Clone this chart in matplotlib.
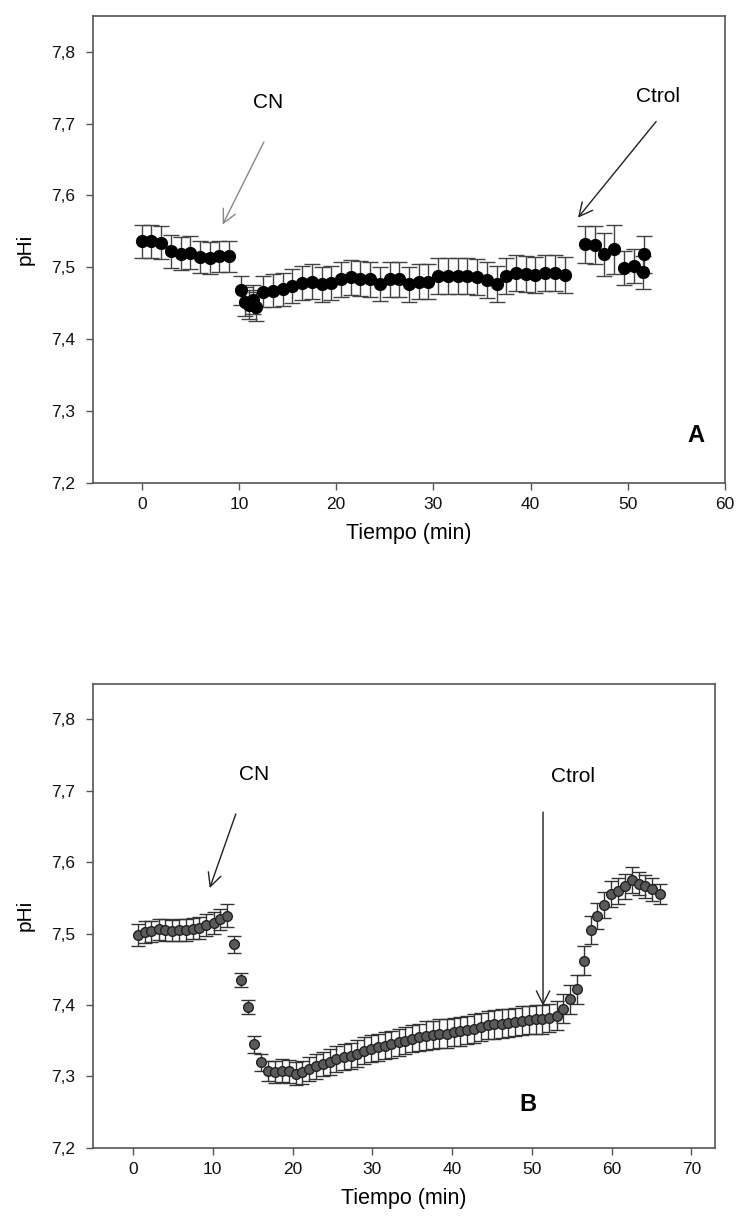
import matplotlib
matplotlib.use("Agg")
import matplotlib.pyplot as plt
from matplotlib.ticker import FuncFormatter

plt.rcParams['font.family'] = ['Liberation Sans', 'DejaVu Sans']

# --- panel A data ---
a_t = [0.0, 1.0, 2.0, 3.0, 4.0, 5.0, 6.0, 7.0, 8.0, 9.0,
       10.2, 10.6, 11.0, 11.4, 11.8, 12.5, 13.5, 14.5, 15.5, 16.5,
       17.5, 18.5, 19.5, 20.5, 21.5, 22.5, 23.5, 24.5, 25.5, 26.5,
       27.5, 28.5, 29.5, 30.5, 31.5, 32.5, 33.5, 34.5, 35.5, 36.5,
       37.5, 38.5, 39.5, 40.5, 41.5, 42.5, 43.5,
       45.6, 46.6, 47.6, 48.6, 49.6, 50.6, 51.6, 51.7]
a_ph = [7.536, 7.536, 7.534, 7.522, 7.519, 7.520, 7.514, 7.513, 7.515, 7.515,
        7.468, 7.452, 7.448, 7.455, 7.445, 7.466, 7.467, 7.469, 7.474, 7.478,
        7.480, 7.476, 7.478, 7.483, 7.486, 7.484, 7.483, 7.477, 7.483, 7.483,
        7.476, 7.480, 7.480, 7.488, 7.488, 7.488, 7.488, 7.487, 7.482, 7.477,
        7.488, 7.492, 7.491, 7.489, 7.492, 7.492, 7.489,
        7.532, 7.531, 7.518, 7.525, 7.499, 7.502, 7.493, 7.518]
a_err = [0.023, 0.023, 0.023, 0.023, 0.023, 0.023, 0.022, 0.022, 0.022, 0.022,
         0.020, 0.020, 0.020, 0.020, 0.020, 0.022, 0.023, 0.023, 0.024, 0.024,
         0.024, 0.024, 0.024, 0.024, 0.024, 0.024, 0.024, 0.024, 0.024, 0.024,
         0.024, 0.024, 0.024, 0.025, 0.025, 0.025, 0.025, 0.025, 0.025, 0.025,
         0.025, 0.025, 0.025, 0.025, 0.025, 0.025, 0.025,
         0.026, 0.026, 0.030, 0.034, 0.024, 0.024, 0.023, 0.026]

# --- panel B data ---
b_t = [0.6, 1.5, 2.3, 3.2, 4.0, 4.9, 5.8, 6.6, 7.5, 8.3, 9.2, 10.1, 10.9, 11.8,
       12.6, 13.5, 14.4, 15.2, 16.1, 16.9, 17.8, 18.7, 19.5, 20.4, 21.2, 22.1,
       23.0, 23.8, 24.7, 25.5, 26.4, 27.3, 28.1, 29.0, 29.8, 30.7, 31.6, 32.4,
       33.3, 34.1, 35.0, 35.9, 36.7, 37.6, 38.4, 39.3, 40.2, 41.0, 41.9, 42.7,
       43.6, 44.5, 45.3, 46.2, 47.0, 47.9, 48.8, 49.6, 50.5, 51.3, 52.2, 53.1,
       53.9, 54.8, 55.6, 56.5, 57.4, 58.2, 59.1, 59.9, 60.8, 61.7, 62.5, 63.4,
       64.2, 65.1, 66.0]
b_ph = [7.498, 7.502, 7.503, 7.506, 7.505, 7.504, 7.505, 7.505, 7.507, 7.508,
        7.512, 7.515, 7.520, 7.525,
        7.485, 7.435, 7.397, 7.345, 7.320, 7.308, 7.306, 7.308, 7.307, 7.304,
        7.306, 7.310, 7.314, 7.317, 7.320, 7.324, 7.327, 7.329, 7.332, 7.336,
        7.339, 7.341, 7.343, 7.345, 7.348, 7.350, 7.353, 7.355, 7.357, 7.358,
        7.360, 7.360, 7.362, 7.363, 7.365, 7.367, 7.369, 7.372, 7.373, 7.374,
        7.375, 7.376, 7.378, 7.379, 7.380, 7.380, 7.382, 7.385,
        7.395, 7.408, 7.422, 7.462, 7.505, 7.525, 7.540, 7.555, 7.560, 7.566,
        7.575, 7.570, 7.566, 7.562, 7.556]
b_err = [0.015, 0.015, 0.015, 0.015, 0.015, 0.015, 0.015, 0.015, 0.015, 0.015,
         0.015, 0.015, 0.015, 0.016,
         0.012, 0.010, 0.010, 0.012, 0.012, 0.014, 0.015, 0.016, 0.016, 0.016,
         0.016, 0.017, 0.017, 0.017, 0.018, 0.018, 0.018, 0.018, 0.019, 0.019,
         0.019, 0.019, 0.019, 0.019, 0.019, 0.019, 0.019, 0.019, 0.020, 0.020,
         0.020, 0.020, 0.020, 0.020, 0.020, 0.020, 0.020, 0.020, 0.020, 0.020,
         0.020, 0.020, 0.020, 0.020, 0.020, 0.020, 0.020, 0.020,
         0.020, 0.020, 0.020, 0.020, 0.020, 0.018, 0.018, 0.018, 0.018, 0.018,
         0.018, 0.016, 0.016, 0.016, 0.014]

y_ticks = [7.2, 7.3, 7.4, 7.5, 7.6, 7.7, 7.8]

fig = plt.figure(figsize=(7.39, 12.25), dpi=100)
axA = fig.add_axes([0.126, 0.606, 0.855, 0.381])
axB = fig.add_axes([0.126, 0.063, 0.842, 0.379])

comma = FuncFormatter(lambda v, p: ('%g' % v).replace('.', ','))


def style(ax, xlim, xticks):
    ax.set_xlim(*xlim)
    ax.set_ylim(7.2, 7.85)
    ax.set_xticks(xticks)
    ax.set_yticks(y_ticks)
    ax.yaxis.set_major_formatter(comma)
    ax.tick_params(direction='out', length=5, width=1, color='#555555',
                   labelcolor='#111111', labelsize=12.5, pad=8)
    ax.tick_params(axis='x', pad=5)
    for s in ax.spines.values():
        s.set_color('#555555')
        s.set_linewidth(1.2)
    ax.set_ylabel('pHi', fontsize=15, labelpad=12)
    ax.set_xlabel('Tiempo (min)', fontsize=15.5, labelpad=8)


# panel A
axA.errorbar(a_t, a_ph, yerr=a_err, fmt='o', color='black', ms=8.5,
             ecolor='#444444', elinewidth=1, capsize=6, capthick=1)
style(axA, (-5, 60), [0, 10, 20, 30, 40, 50, 60])
axA.annotate('', xy=(8.2, 7.556), xytext=(12.7, 7.678),
             arrowprops=dict(arrowstyle='->', color='#888888', lw=1, mutation_scale=24))
axA.text(13.0, 7.73, 'CN', fontsize=15, ha='center', va='center')
axA.annotate('', xy=(44.7, 7.566), xytext=(53.1, 7.706),
             arrowprops=dict(arrowstyle='->', color='#222222', lw=1, mutation_scale=24))
axA.text(53.1, 7.738, 'Ctrol', fontsize=15, ha='center', va='center')
axA.text(57.0, 7.265, 'A', fontsize=17, fontweight='bold', ha='center', va='center')

# panel B
axB.errorbar(b_t, b_ph, yerr=b_err, fmt='o', color='#5a5a5a', mec='#222222', ms=7,
             ecolor='#333333', elinewidth=1, capsize=5, capthick=1)
style(axB, (-5, 73), [0, 10, 20, 30, 40, 50, 60, 70])
axB.annotate('', xy=(9.5, 7.56), xytext=(13.0, 7.671),
             arrowprops=dict(arrowstyle='->', color='#222222', lw=1, mutation_scale=24))
axB.text(15.2, 7.723, 'CN', fontsize=15, ha='center', va='center')
axB.annotate('', xy=(51.4, 7.395), xytext=(51.4, 7.674),
             arrowprops=dict(arrowstyle='->', color='#222222', lw=1, mutation_scale=24))
axB.text(55.1, 7.72, 'Ctrol', fontsize=15, ha='center', va='center')
axB.text(49.5, 7.26, 'B', fontsize=17, fontweight='bold', ha='center', va='center')

fig.savefig('out.png', dpi=100)
